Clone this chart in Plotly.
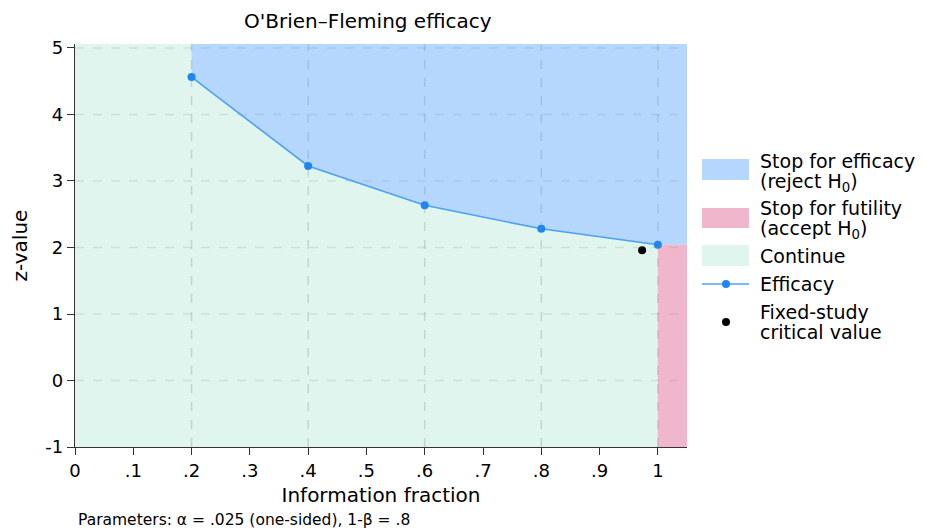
import plotly.graph_objects as go

# ---- data ----
info_frac = [0.2, 0.4, 0.6, 0.8, 1.0]
efficacy_z = [4.562, 3.226, 2.634, 2.281, 2.040]
fixed_x = [0.973]
fixed_z = [1.96]
x_ticks = [0, 0.1, 0.2, 0.3, 0.4, 0.5, 0.6, 0.7, 0.8, 0.9, 1.0]
x_tick_labels = ["0", ".1", ".2", ".3", ".4", ".5", ".6", ".7", ".8", ".9", "1"]
y_ticks = [-1, 0, 1, 2, 3, 4, 5]
y_tick_labels = ["-1", "0", "1", "2", "3", "4", "5"]
x_grid = [0.2, 0.4, 0.6, 0.8, 1.0]
x_range = [0, 1.05]
y_range = [-1, 5.06]

# ---- styling ----
OFF = 8  # page body margin
W, H = 925 - OFF, 529 - OFF
L, R, T, B = 75 - OFF, 238, 44 - OFF, 82
FONT = "DejaVu Sans"
C_EFF = "rgb(181,215,253)"
C_FUT = "rgb(240,182,204)"
C_CONT = "rgb(223,245,237)"
C_LINE = "rgb(77,160,248)"
C_MARK = "rgb(28,134,244)"

fig = go.Figure()

# efficacy region (above the boundary)
ex = info_frac + [x_range[1], x_range[1], info_frac[0]]
ey = efficacy_z + [efficacy_z[-1], y_range[1], y_range[1]]
fig.add_trace(go.Scatter(x=ex, y=ey, fill="toself", fillcolor=C_EFF, mode="none",
                         hoverinfo="skip", showlegend=False))
# futility region
fx = [info_frac[-1], x_range[1], x_range[1], info_frac[-1]]
fy = [y_range[0], y_range[0], efficacy_z[-1], efficacy_z[-1]]
fig.add_trace(go.Scatter(x=fx, y=fy, fill="toself", fillcolor=C_FUT, mode="none",
                         hoverinfo="skip", showlegend=False))
# efficacy boundary
fig.add_trace(go.Scatter(x=info_frac, y=efficacy_z, mode="lines+markers",
                         line=dict(color=C_LINE, width=1.6),
                         marker=dict(color=C_MARK, size=8), showlegend=False))
# fixed-study critical value
fig.add_trace(go.Scatter(x=fixed_x, y=fixed_z, mode="markers",
                         marker=dict(color="black", size=8), showlegend=False))

GRID = "rgba(110,135,135,0.28)"
shapes = []
for gx in x_grid:
    shapes.append(dict(type="line", xref="x", yref="paper", x0=gx, x1=gx, y0=0, y1=1,
                       line=dict(color=GRID, width=1.5, dash="dash"), layer="above"))
for gy in y_ticks[1:]:
    shapes.append(dict(type="line", xref="paper", yref="y", x0=0, x1=1, y0=gy, y1=gy,
                       line=dict(color="rgba(110,135,135,0.18)", width=1.5, dash="dash"), layer="above"))

pw = W - L - R
ph = H - T - B
def px(xp):
    return (xp - OFF - L) / pw
def py(yp):
    return (H - B - (yp - OFF)) / ph

# manual legend
legend_rects = [(159, 180, C_EFF), (208, 228, C_FUT), (245, 266, C_CONT)]
for y0, y1, c in legend_rects:
    shapes.append(dict(type="rect", xref="paper", yref="paper", x0=px(702), x1=px(749),
                       y0=py(y1), y1=py(y0), fillcolor=c, line=dict(width=0), layer="above"))
shapes.append(dict(type="line", xref="paper", yref="paper", x0=px(702), x1=px(749),
                   y0=py(284), y1=py(284), line=dict(color=C_LINE, width=1.6)))
shapes.append(dict(type="circle", xref="paper", yref="paper", xsizemode="pixel", ysizemode="pixel",
                   xanchor=px(726), yanchor=py(284), x0=-4, x1=4, y0=-4, y1=4,
                   fillcolor=C_MARK, line=dict(width=0)))
shapes.append(dict(type="circle", xref="paper", yref="paper", xsizemode="pixel", ysizemode="pixel",
                   xanchor=px(726), yanchor=py(322), x0=-4, x1=4, y0=-4, y1=4,
                   fillcolor="black", line=dict(width=0)))

legend_text = [
    ("Stop for efficacy", 161), ("(reject H<sub>0</sub>)", 182),
    ("Stop for futility", 208), ("(accept H<sub>0</sub>)", 229),
    ("Continue", 256), ("Efficacy", 284),
    ("Fixed-study", 312), ("critical value", 332),
]
annotations = []
for t, yy in legend_text:
    annotations.append(dict(text=t, xref="paper", yref="paper", x=px(759), y=py(yy),
                            xanchor="left", yanchor="middle", showarrow=False, borderpad=0,
                            font=dict(family=FONT, size=19, color="black")))
annotations.append(dict(text="O'Brien–Fleming efficacy", xref="paper", yref="paper",
                        x=px(368), y=py(21), xanchor="center", yanchor="middle", showarrow=False,
                        font=dict(family=FONT, size=20, color="black")))
annotations.append(dict(text="Parameters: α = .025 (one-sided), 1-β = .8", xref="paper", yref="paper",
                        x=px(76), y=py(520), xanchor="left", yanchor="middle", showarrow=False,
                        font=dict(family=FONT, size=15.5, color="black")))

fig.update_layout(
    width=W, height=H,
    margin=dict(l=L, r=R, t=T, b=B, autoexpand=False),
    paper_bgcolor="white", plot_bgcolor=C_CONT,
    shapes=shapes, annotations=annotations,
    font=dict(family=FONT, size=18, color="black"),
    showlegend=False,
)
fig.update_xaxes(range=x_range, tickvals=x_ticks, ticktext=x_tick_labels, automargin=False,
                 showgrid=False, zeroline=False, showline=True, linecolor="#333", linewidth=1.3,
                 ticks="outside", ticklen=7, tickcolor="#333", tickwidth=1.3,
                 tickfont=dict(family=FONT, size=18),
                 title=dict(text="Information fraction", font=dict(family=FONT, size=20), standoff=8))
fig.update_yaxes(range=y_range, tickvals=y_ticks, ticktext=y_tick_labels, automargin=False,
                 showgrid=False, zeroline=False,
                 showline=True, linecolor="#333", linewidth=1.3,
                 ticks="outside", ticklen=7, tickcolor="#333", tickwidth=1.3,
                 tickfont=dict(family=FONT, size=18),
                 title=dict(text="z-value", font=dict(family=FONT, size=20), standoff=17))

fig.write_html("out.html")
